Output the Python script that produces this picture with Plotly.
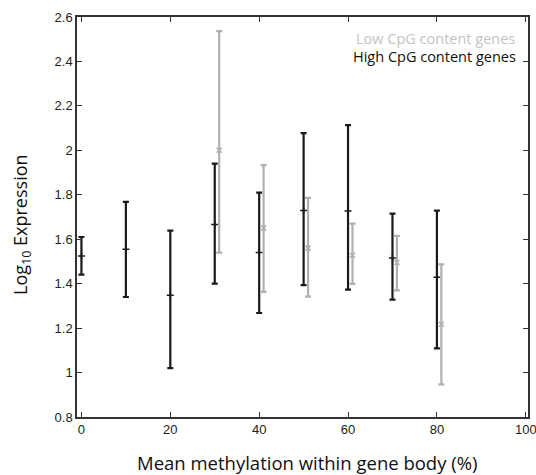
import plotly.graph_objects as go

# High CpG content genes (black)
high_x = [0, 10, 20, 30, 40, 50, 60, 70, 80]
high_mean = [1.524, 1.555, 1.348, 1.666, 1.54, 1.729, 1.727, 1.516, 1.429]
high_upper = [1.61, 1.768, 1.639, 1.94, 1.81, 2.077, 2.113, 1.715, 1.729]
high_lower = [1.441, 1.34, 1.02, 1.40, 1.268, 1.393, 1.373, 1.328, 1.109]

# Low CpG content genes (grey)
low_x = [31, 41, 51, 61, 71, 81]
low_mean = [2.0, 1.65, 1.56, 1.528, 1.495, 1.217]
low_upper = [2.536, 1.933, 1.786, 1.67, 1.615, 1.487]
low_lower = [1.54, 1.363, 1.342, 1.399, 1.37, 0.947]

x_ticks = [0, 20, 40, 60, 80, 100]
y_ticks = [0.8, 1, 1.2, 1.4, 1.6, 1.8, 2, 2.2, 2.4, 2.6]
y_tick_text = ["0.8", "1", "1.2", "1.4", "1.6", "1.8", "2", "2.2", "2.4", "2.6"]

BLACK = "#1a1a1a"
GREY = "#b0b0b0"

L, R, T, B = 77, 8, 17, 58
W, H = 536, 475
pw, ph = W - L - R, H - T - B


def px_x(p):
    return (p - L) / pw


def px_y(p):
    return 1 - (p - T) / ph


fig = go.Figure()
fig.add_trace(go.Scatter(
    x=high_x, y=high_mean, mode="markers",
    marker=dict(symbol="cross-thin", size=5, color=BLACK, line=dict(color=BLACK, width=1.5)),
    error_y=dict(type="data", symmetric=False,
                 array=[u - m for u, m in zip(high_upper, high_mean)],
                 arrayminus=[m - l for m, l in zip(high_mean, high_lower)],
                 color=BLACK, thickness=2.2, width=3),
    showlegend=False,
))
fig.add_trace(go.Scatter(
    x=low_x, y=low_mean, mode="markers",
    marker=dict(symbol="x-thin", size=5, color=GREY, line=dict(color=GREY, width=1.5)),
    error_y=dict(type="data", symmetric=False,
                 array=[u - m for u, m in zip(low_upper, low_mean)],
                 arrayminus=[m - l for m, l in zip(low_mean, low_lower)],
                 color=GREY, thickness=2.2, width=3),
    showlegend=False,
))

fig.add_annotation(x=px_x(517), y=px_y(38), xref="paper", yref="paper", xanchor="right", yanchor="middle",
                   text="Low CpG content genes", showarrow=False,
                   font=dict(family="Open Sans, Arial", size=14.5, color="#c4c4c4"))
fig.add_annotation(x=px_x(518), y=px_y(57), xref="paper", yref="paper", xanchor="right", yanchor="middle",
                   text="High CpG content genes", showarrow=False,
                   font=dict(family="Open Sans, Arial", size=14.5, color="#111111"))
fig.add_annotation(x=px_x(307), y=px_y(462), xref="paper", yref="paper", xanchor="center", yanchor="middle",
                   text="Mean methylation within gene body (%)", showarrow=False,
                   font=dict(family="Open Sans, Arial", size=18.5, color="#111"))
fig.add_annotation(x=px_x(21), y=px_y(225), xref="paper", yref="paper", xanchor="center", yanchor="middle",
                   text="Log<sub>10</sub> Expression", showarrow=False, textangle=-90,
                   font=dict(family="Open Sans, Arial", size=18, color="#111"))

fig.update_layout(
    width=W, height=H,
    margin=dict(l=L, r=R, t=T, b=B, autoexpand=False),
    paper_bgcolor="white", plot_bgcolor="white",
    font=dict(family="Liberation Sans, Arial", size=13, color="#222"),
)
fig.update_xaxes(
    range=[-1, 100.5], tickvals=x_ticks, ticks="inside", ticklen=5, tickcolor="#333",
    showline=True, linecolor="#333", linewidth=1.5, mirror="ticks", showgrid=False, zeroline=False,
    automargin=False, ticklabeloverflow="allow",
)
fig.update_yaxes(
    range=[0.8, 2.6], tickvals=y_ticks, ticktext=y_tick_text,
    ticks="inside", ticklen=5, tickcolor="#333",
    showline=True, linecolor="#333", linewidth=1.5, mirror="ticks", showgrid=False, zeroline=False,
    automargin=False, ticklabeloverflow="allow",
)

fig.write_html("out.html")
